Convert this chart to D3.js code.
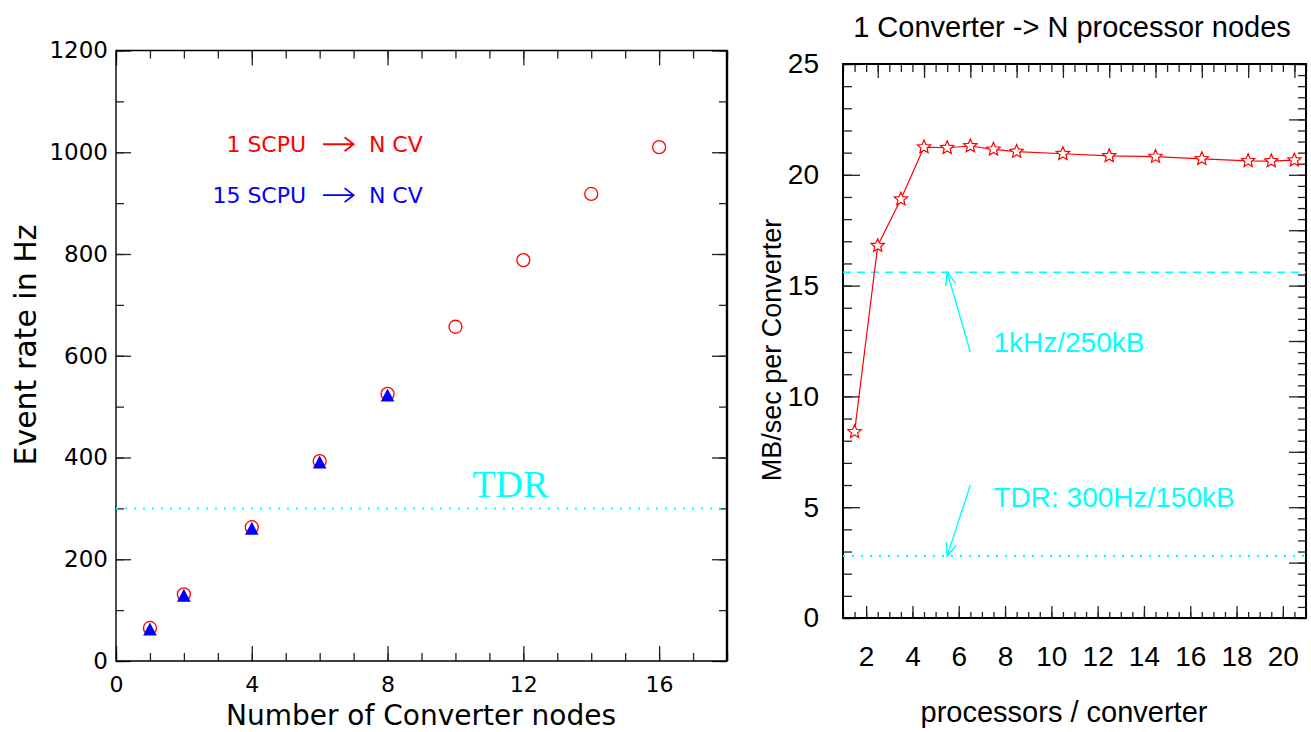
<!DOCTYPE html>
<html>
<head>
<meta charset="utf-8">
<script src="https://cdnjs.cloudflare.com/ajax/libs/d3/7.8.5/d3.min.js"></script>
<style>
  body { margin: 0; background: #fff; }
  svg { display: block; }
</style>
</head>
<body>
<script>
// left panel: event rate vs number of converter nodes
var nodes1 = [1, 2, 4, 6, 8, 10, 12, 14, 16];
var rate1 = [65, 131, 263, 393, 525, 657, 788, 918, 1010];
var nodes15 = [1, 2, 4, 6, 8];
var rate15 = [63, 129, 261, 391, 523];
var tdrRate = 300;
var leftXTicks = [0, 4, 8, 12, 16];
var leftYTicks = [0, 200, 400, 600, 800, 1000, 1200];

// right panel: MB/sec per converter vs processors
var procs = [1, 2, 3, 4, 5, 6, 7, 8, 10, 12, 14, 16, 18, 19, 20];
var mbps = [8.4, 16.8, 18.9, 21.25, 21.22, 21.3, 21.15, 21.05, 20.95, 20.85, 20.82, 20.72, 20.63, 20.62, 20.66];
var req1k = 15.6;
var reqTdr = 2.8;
var rightXTicks = [2, 4, 6, 8, 10, 12, 14, 16, 18, 20];
var rightYTicks = [0, 5, 10, 15, 20, 25];

var W = 1311, H = 732;
var svg = d3.select("body").append("svg")
    .attr("width", W)
    .attr("height", H);

function range(a, b, s) {
  var out = [];
  for (var v = a; v <= b + 1e-9; v += s) out.push(+v.toFixed(3));
  return out;
}

function styleAxis(g) {
  g.select(".domain").remove();
  g.selectAll(".tick line").attr("stroke", "#222").attr("stroke-width", 1.3);
}

// ---------- left panel ----------
var xL = d3.scaleLinear().domain([0, 18]).range([116, 727]);
var yL = d3.scaleLinear().domain([0, 1200]).range([661, 50.5]);
var left = svg.append("g")
    .attr("font-family", "DejaVu Sans, sans-serif");

// minor ticks
left.append("g").attr("transform", "translate(0,661)")
    .call(d3.axisBottom(xL).tickValues(range(0, 18, 1)).tickSize(-8).tickFormat(""))
    .call(styleAxis);
left.append("g").attr("transform", "translate(0,50.5)")
    .call(d3.axisTop(xL).tickValues(range(0, 18, 1)).tickSize(-8).tickFormat(""))
    .call(styleAxis);
left.append("g").attr("transform", "translate(116,0)")
    .call(d3.axisLeft(yL).tickValues(range(0, 1200, 100)).tickSize(-8).tickFormat(""))
    .call(styleAxis);
left.append("g").attr("transform", "translate(727,0)")
    .call(d3.axisRight(yL).tickValues(range(0, 1200, 100)).tickSize(-8).tickFormat(""))
    .call(styleAxis);

// major ticks + labels
var lb = left.append("g").attr("transform", "translate(0,661)")
    .call(d3.axisBottom(xL).tickValues(leftXTicks).tickSize(-15).tickPadding(15).tickFormat(d3.format("d")))
    .call(styleAxis);
lb.selectAll("text").attr("font-size", 22).attr("fill", "#000").attr("font-family", "DejaVu Sans");
left.append("g").attr("transform", "translate(0,50.5)")
    .call(d3.axisTop(xL).tickValues(leftXTicks).tickSize(-15).tickFormat(""))
    .call(styleAxis);
var ll = left.append("g").attr("transform", "translate(116,0)")
    .call(d3.axisLeft(yL).tickValues(leftYTicks).tickSize(-15).tickPadding(8).tickFormat(d3.format("d")))
    .call(styleAxis);
ll.selectAll("text").attr("font-size", 23).attr("fill", "#000").attr("font-family", "DejaVu Sans");
left.append("g").attr("transform", "translate(727,0)")
    .call(d3.axisRight(yL).tickValues(leftYTicks).tickSize(-15).tickFormat(""))
    .call(styleAxis);

// frame
left.append("path")
    .attr("d", "M116,50.5H727V661H116Z")
    .attr("fill", "none").attr("stroke", "#000").attr("stroke-width", 1.4);
left.append("line")
    .attr("x1", 727).attr("x2", 727).attr("y1", 50.5).attr("y2", 661)
    .attr("stroke", "#000").attr("stroke-width", 2.4);

// TDR line
left.append("line")
    .attr("x1", xL(0)).attr("x2", xL(18))
    .attr("y1", yL(tdrRate)).attr("y2", yL(tdrRate))
    .attr("stroke", "#00ffff").attr("stroke-width", 2)
    .attr("stroke-dasharray", "2,7");
left.append("text")
    .attr("x", xL(10.5)).attr("y", yL(322))
    .attr("font-family", "Liberation Serif, serif")
    .attr("font-size", 38)
    .attr("fill", "#00ffff")
    .text("TDR");

// red circles (1 SCPU)
left.selectAll("circle.r1")
    .data(nodes1.map(function(n, i) { return [n, rate1[i]]; }))
    .enter().append("circle")
    .attr("cx", function(d) { return xL(d[0]); })
    .attr("cy", function(d) { return yL(d[1]); })
    .attr("r", 6.5)
    .attr("fill", "none")
    .attr("stroke", "#ff0000")
    .attr("stroke-width", 1.3);

// blue triangles (15 SCPU)
left.selectAll("path.r15")
    .data(nodes15.map(function(n, i) { return [n, rate15[i]]; }))
    .enter().append("path")
    .attr("d", "M0,-6.5L6.8,6.5L-6.8,6.5Z")
    .attr("transform", function(d) { return "translate(" + xL(d[0]) + "," + yL(d[1]) + ")"; })
    .attr("fill", "#0000ff");

// legend
var legend = [
  { label: "1 SCPU", color: "#ff0000", y: 1000 },
  { label: "15 SCPU", color: "#0000ff", y: 900 }
];
legend.forEach(function(l) {
  var by = yL(l.y);
  left.append("text")
      .attr("x", xL(5.6)).attr("y", by)
      .attr("text-anchor", "end")
      .attr("font-size", 22).attr("fill", l.color)
      .text(l.label);
  var ay = by - 8;
  var x0 = xL(6.1), x1 = xL(7.0);
  left.append("path")
      .attr("d", "M" + x0 + "," + ay + "H" + x1 + "M" + (x1 - 9) + "," + (ay - 7) + "L" + x1 + "," + ay + "L" + (x1 - 9) + "," + (ay + 7))
      .attr("fill", "none").attr("stroke", l.color).attr("stroke-width", 1.8);
  left.append("text")
      .attr("x", xL(7.45)).attr("y", by)
      .attr("font-size", 22).attr("fill", l.color)
      .text("N CV");
});

// axis titles
left.append("text")
    .attr("x", 421).attr("y", 725)
    .attr("text-anchor", "middle")
    .attr("font-size", 28)
    .text("Number of Converter nodes");
left.append("text")
    .attr("transform", "translate(36,345) rotate(-90)")
    .attr("text-anchor", "middle")
    .attr("font-size", 30)
    .text("Event rate in Hz");

// ---------- right panel ----------
// points sit on bin centres; the labelled axis below is shifted by half a bin
var xR = d3.scaleLinear().domain([0.5, 20.5]).range([843, 1306]);
var xRb = d3.scaleLinear().domain([1, 21]).range([843, 1306]);
var yR = d3.scaleLinear().domain([0, 25]).range([618, 64]);
var right = svg.append("g")
    .attr("font-family", "Liberation Sans, Arial, sans-serif");

right.append("g").attr("transform", "translate(0,618)")
    .call(d3.axisBottom(xRb).tickValues(range(1, 21, 0.5)).tickSize(-6).tickFormat(""))
    .call(styleAxis);
right.append("g").attr("transform", "translate(0,64)")
    .call(d3.axisTop(xR).tickValues(range(0.5, 20.5, 0.5)).tickSize(-8).tickFormat(""))
    .call(styleAxis);
right.append("g").attr("transform", "translate(843,0)")
    .call(d3.axisLeft(yR).tickValues(range(0, 25, 1)).tickSize(-9).tickFormat(""))
    .call(styleAxis);
right.append("g").attr("transform", "translate(1306,0)")
    .call(d3.axisRight(yR).tickValues(range(0, 25, 0.5)).tickSize(-8).tickFormat(""))
    .call(styleAxis);

var rb = right.append("g").attr("transform", "translate(0,618)")
    .call(d3.axisBottom(xRb).tickValues(rightXTicks).tickSize(-12).tickPadding(28))
    .call(styleAxis);
rb.selectAll("text").attr("font-size", 28).attr("fill", "#000").attr("font-family", "Liberation Sans, Arial");
right.append("g").attr("transform", "translate(0,64)")
    .call(d3.axisTop(xR).tickValues(rightXTicks).tickSize(-14).tickFormat(""))
    .call(styleAxis);
var rl = right.append("g").attr("transform", "translate(843,0)")
    .call(d3.axisLeft(yR).tickValues(rightYTicks).tickSize(-17).tickPadding(24))
    .call(styleAxis);
rl.selectAll("text").attr("font-size", 28).attr("fill", "#000").attr("font-family", "Liberation Sans, Arial");
right.append("g").attr("transform", "translate(1306,0)")
    .call(d3.axisRight(yR).tickValues(range(0, 25, 2.5)).tickSize(-17).tickFormat(""))
    .call(styleAxis);

right.append("path")
    .attr("d", "M843,64H1306V618H843Z")
    .attr("fill", "none").attr("stroke", "#000").attr("stroke-width", 2);

// requirement lines
right.append("line")
    .attr("x1", xR(0.5)).attr("x2", xR(20.5))
    .attr("y1", yR(req1k)).attr("y2", yR(req1k))
    .attr("stroke", "#00ffff").attr("stroke-width", 1.6)
    .attr("stroke-dasharray", "8,6");
right.append("line")
    .attr("x1", xR(0.5)).attr("x2", xR(20.5))
    .attr("y1", yR(reqTdr)).attr("y2", yR(reqTdr))
    .attr("stroke", "#00ffff").attr("stroke-width", 2.2)
    .attr("stroke-dasharray", "2,7");

// arrows + notes
var notes = [
  { text: "1kHz/250kB", tx: 7, ty: 12, from: [6, 12], to: [5, req1k] },
  { text: "TDR: 300Hz/150kB", tx: 7, ty: 5, from: [6, 6], to: [5, reqTdr] }
];
notes.forEach(function(n) {
  var x0 = xR(n.from[0]), y0 = yR(n.from[1]);
  var x1 = xR(n.to[0]), y1 = yR(n.to[1]);
  var a = Math.atan2(y1 - y0, x1 - x0);
  var hl = 14, sp = 0.38;
  var h1 = [x1 - hl * Math.cos(a - sp), y1 - hl * Math.sin(a - sp)];
  var h2 = [x1 - hl * Math.cos(a + sp), y1 - hl * Math.sin(a + sp)];
  right.append("path")
      .attr("d", "M" + x0 + "," + y0 + "L" + x1 + "," + y1 +
                 "M" + h1[0] + "," + h1[1] + "L" + x1 + "," + y1 + "L" + h2[0] + "," + h2[1])
      .attr("fill", "none").attr("stroke", "#00ffff").attr("stroke-width", 1.4);
  right.append("text")
      .attr("x", xR(n.tx)).attr("y", yR(n.ty))
      .attr("font-size", 28).attr("fill", "#00ffff")
      .text(n.text);
});

// data line + stars
var pts = procs.map(function(p, i) { return [p, mbps[i]]; });
right.append("path")
    .datum(pts)
    .attr("d", d3.line().x(function(d) { return xR(d[0]); }).y(function(d) { return yR(d[1]); }))
    .attr("fill", "none").attr("stroke", "#ff0000").attr("stroke-width", 1.2);

function starPath(ro, ri) {
  var s = "";
  for (var k = 0; k < 10; k++) {
    var r = k % 2 ? ri : ro;
    var ang = -Math.PI / 2 + k * Math.PI / 5;
    s += (k ? "L" : "M") + (r * Math.cos(ang)).toFixed(2) + "," + (r * Math.sin(ang)).toFixed(2);
  }
  return s + "Z";
}
right.selectAll("path.star")
    .data(pts)
    .enter().append("path")
    .attr("d", starPath(7, 3.2))
    .attr("transform", function(d) { return "translate(" + xR(d[0]) + "," + yR(d[1]) + ")"; })
    .attr("fill", "#fff")
    .attr("stroke", "#ff0000").attr("stroke-width", 1.2);

// titles
right.append("text")
    .attr("x", 1072).attr("y", 37)
    .attr("text-anchor", "middle")
    .attr("font-size", 29)
    .text("1 Converter -> N processor nodes");
right.append("text")
    .attr("x", 1064).attr("y", 722)
    .attr("text-anchor", "middle")
    .attr("font-size", 29)
    .text("processors / converter");
right.append("text")
    .attr("transform", "translate(781,350) rotate(-90)")
    .attr("text-anchor", "middle")
    .attr("font-size", 27)
    .text("MB/sec per Converter");
</script>
</body>
</html>
